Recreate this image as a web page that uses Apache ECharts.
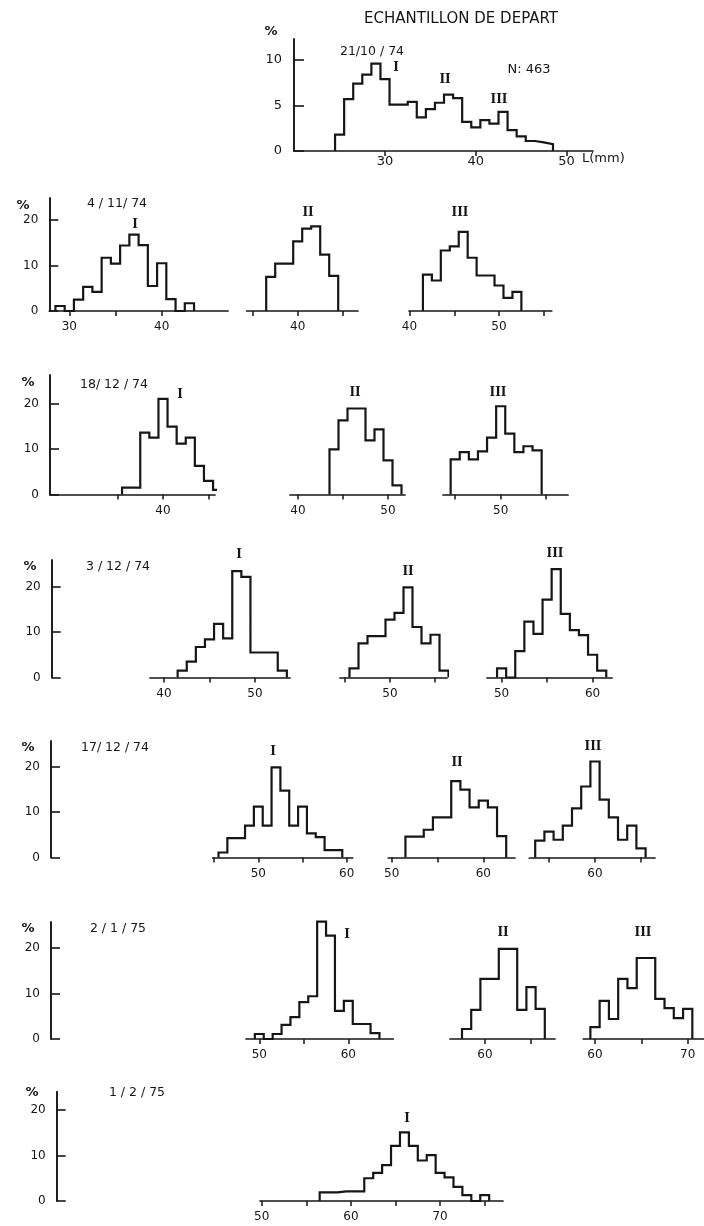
<!DOCTYPE html>
<html><head><meta charset="utf-8">
<script src="https://cdn.jsdelivr.net/npm/echarts@6/dist/echarts.min.js"></script>
<style>html,body{margin:0;padding:0;background:#fff}#c{width:704px;height:1226px}</style>
</head><body><div id="c"></div>
<script>
// ---------- DATA (percent per 1-mm length class; start = lower edge of first class, mm) ----------
const title = 'ECHANTILLON DE DEPART';
const sampleSize = 'N: 463';
const unitLabel = 'L(mm)';
const dates = ['21/10 / 74', '4 / 11/ 74', '18/ 12 / 74', '3 / 12 / 74', '17/ 12 / 74', '2 / 1 / 75', '1 / 2 / 75'];
const cohorts = ['I', 'II', 'III'];

const startTop = 24.5;
const valsTop = [1.8,5.7,7.4,8.4,9.6,7.9,5.1,5.1,5.4,3.7,4.6,5.3,6.2,5.8,3.2,2.6,3.4,3.0,4.3,2.3,1.6,1.1,0.95,0.75];

const start_4_11_I = 28.5;   const vals_4_11_I = [1.1,0,2.5,5.3,4.2,11.7,10.4,14.4,16.8,14.5,5.5,10.5,2.6,0,1.7];
const start_4_11_II = 36.5;  const vals_4_11_II = [7.5,10.4,10.4,15.3,18.1,18.6,12.4,7.7];
const start_4_11_III = 41.5; const vals_4_11_III = [8.0,6.7,13.3,14.2,17.4,11.7,7.8,7.8,5.6,2.9,4.2];

const start_18_12_I = 35.5;  const vals_18_12_I = [1.5,1.5,13.6,12.5,21,14.9,11.2,12.5,6.3,3,1];
const start_18_12_II = 43.5; const vals_18_12_II = [9.9,16.3,18.9,18.9,11.9,14.3,7.5,2];
const start_18_12_III = 44.5;const vals_18_12_III = [7.7,9.3,7.7,9.5,12.5,19.4,13.4,9.3,10.6,9.7];

const start_3_12_I = 41.5;   const vals_3_12_I = [1.5,3.5,6.7,8.4,11.8,8.6,23.4,22.1,5.5,5.5,5.5,1.5];
const start_3_12_II = 45.5;  const vals_3_12_II = [2,7.5,9.1,9.1,12.7,14.2,19.8,11.1,7.5,9.4,1.5];
const start_3_12_III = 49.5; const vals_3_12_III = [2,0,5.8,12.3,9.6,17.1,23.8,14,10.4,9.3,5,1.5];

const start_17_12_I = 45.5;  const vals_17_12_I = [1.1,4.25,4.25,7,11.2,7,19.8,14.7,7,11.2,5.3,4.5,1.6,1.6];
const start_17_12_II = 51.5; const vals_17_12_II = [4.6,4.6,6.1,8.8,8.8,16.8,14.9,11,12.5,11,4.7];
const start_17_12_III = 53.5;const vals_17_12_III = [3.7,5.7,3.9,7,10.8,15.6,21.1,12.7,8.8,3.9,7,2];

const start_2_1_I = 49.5;    const vals_2_1_I = [1.1,0,1.1,3.1,4.8,8.1,9.4,25.8,22.7,6.2,8.4,3.3,3.3,1.3];
const start_2_1_II = 57.5;   const vals_2_1_II = [2.2,6.4,13.2,13.2,19.8,19.8,6.4,11.4,6.6];
const start_2_1_III = 59.5;  const vals_2_1_III = [2.6,8.4,4.4,13.2,11.2,17.8,17.8,8.8,6.8,4.6,6.6];

const start_1_2_I = 56.5;    const vals_1_2_I = [1.9,1.9,2.1,2.1,2.1,5.0,6.2,7.9,12.1,15.1,12.1,8.9,10.1,6.2,5.2,3.1,1.3,0,1.3];

const yTicksTop = [0,5,10];
const yTicksRows = [0,10,20];

// ---------- LAYOUT (pixels) ----------
const INK = '#161616';
const FONT = '"DejaVu Sans", "Liberation Sans", sans-serif';
const KY = 4.55;

const panels = [
  {start:startTop, vals:valsTop, v0:30, p0:385, k:9.08, xa:294, xb:593, base:151, ky:9.1, ymax:12.3, ticks:[30,40,50], labels:[30,40,50], margin:4, fs:13, yAxis:true},
  {start:start_4_11_I, vals:vals_4_11_I, v0:30, p0:69.3, k:9.24, xa:49.3, xb:228, base:311, ticks:[30,35,40], labels:[30,40]},
  {start:start_4_11_II, vals:vals_4_11_II, v0:40, p0:297.7, k:9.0, xa:246.7, xb:358, base:311, ticks:[35,40,45], labels:[40]},
  {start:start_4_11_III, vals:vals_4_11_III, v0:40, p0:409.5, k:8.95, xa:409, xb:551.7, base:311, ticks:[40,45,50,55], labels:[40,50]},
  {start:start_18_12_I, vals:vals_18_12_I, v0:40, p0:163, k:9.1, xa:50, xb:215, base:494.5, ticks:[35,40,45], labels:[40]},
  {start:start_18_12_II, vals:vals_18_12_II, v0:40, p0:298, k:9.0, xa:290, xb:405, base:494.5, ticks:[40,45,50], labels:[40,50]},
  {start:start_18_12_III, vals:vals_18_12_III, v0:50, p0:500.7, k:9.1, xa:443, xb:568, base:494.5, ticks:[45,50,55], labels:[50]},
  {start:start_3_12_I, vals:vals_3_12_I, v0:40, p0:164, k:9.1, xa:150, xb:290, base:677.5, ticks:[40,45,50], labels:[40,50]},
  {start:start_3_12_II, vals:vals_3_12_II, v0:50, p0:390, k:9.0, xa:340, xb:447, base:677.5, ticks:[45,50,55], labels:[50]},
  {start:start_3_12_III, vals:vals_3_12_III, v0:50, p0:501.6, k:9.1, xa:487, xb:612, base:677.5, ticks:[50,55,60], labels:[50,60]},
  {start:start_17_12_I, vals:vals_17_12_I, v0:50, p0:258.3, k:8.84, xa:212.7, xb:352.7, base:857.5, ticks:[45,50,55,60], labels:[50,60]},
  {start:start_17_12_II, vals:vals_17_12_II, v0:50, p0:391.7, k:9.16, xa:388.3, xb:515, base:857.5, ticks:[50,55,60], labels:[50,60]},
  {start:start_17_12_III, vals:vals_17_12_III, v0:60, p0:595, k:9.2, xa:529.3, xb:655, base:857.5, ticks:[55,60,65], labels:[60]},
  {start:start_2_1_I, vals:vals_2_1_I, v0:50, p0:259.3, k:8.9, xa:246, xb:393.3, base:1039, ticks:[50,55,60], labels:[50,60]},
  {start:start_2_1_II, vals:vals_2_1_II, v0:60, p0:485, k:9.2, xa:450, xb:555, base:1039, ticks:[60,65], labels:[60]},
  {start:start_2_1_III, vals:vals_2_1_III, v0:60, p0:595, k:9.27, xa:583.3, xb:704, base:1039, ticks:[60,65,70], labels:[60,70]},
  {start:start_1_2_I, vals:vals_1_2_I, v0:50, p0:261.7, k:8.92, xa:260, xb:503, base:1201, ticks:[50,55,60,65,70,75], labels:[50,60,70]}
];

const rowAxes = [
  {x:49.3, top:198, base:311},
  {x:50, top:375, base:494.5},
  {x:51.7, top:560, base:677.5},
  {x:51, top:741, base:857.5},
  {x:51, top:922, base:1039},
  {x:56.7, top:1091.7, base:1201}
];

const datePos = [[372,52],[117,204],[114,385],[118,567],[115,748],[118,929],[137,1093]];
const pctPos = [[271,32],[23,206],[28,383],[30,567],[28,748],[28,929],[32,1093]];
const romanPos = [
  [0,396,68],[1,445,80],[2,499,100],
  [0,135,225],[1,308,213],[2,460,213],
  [0,180,395],[1,355,393],[2,498,393],
  [0,239,555],[1,408,572],[2,555,554],
  [0,273,752],[1,457,763],[2,593,747],
  [0,347,935],[1,503,933],[2,643,933],
  [0,407,1119]
];

// ---------- BUILD ----------
function outline(start, vals){
  const pts = [[start, 0]];
  vals.forEach((v, i) => { pts.push([start + i, v]); pts.push([start + i + 1, v]); });
  pts.push([start + vals.length, 0]);
  return pts;
}

const grids = [], xAxes = [], yAxes = [], series = [];

panels.forEach(p => {
  const ky = p.ky || KY;
  const ymax = p.ymax || 30;
  const i = grids.length;
  grids.push({left:p.xa, top:p.base - ymax*ky, width:p.xb - p.xa, height:ymax*ky, containLabel:false, outerBoundsMode:'none'});
  xAxes.push({
    type:'value', gridIndex:i,
    min:p.v0 + (p.xa - p.p0)/p.k, max:p.v0 + (p.xb - p.p0)/p.k,
    axisLine:{show:true, onZero:false, lineStyle:{color:INK, width:1.7}},
    axisTick:{show:true, length:5, customValues:p.ticks, lineStyle:{color:INK, width:1.5}},
    axisLabel:{show:true, customValues:p.labels, margin:p.margin || 10, color:INK, fontSize:p.fs || 12, fontFamily:FONT},
    splitLine:{show:false}
  });
  if (p.yAxis) {
    yAxes.push({
      type:'value', gridIndex:i, min:0, max:ymax,
      axisLine:{show:true, lineStyle:{color:INK, width:1.9}},
      axisTick:{show:true, inside:true, length:10, customValues:yTicksTop, lineStyle:{color:INK, width:1.6}},
      axisLabel:{show:true, customValues:yTicksTop, margin:12, color:INK, fontSize:13, fontFamily:FONT},
      splitLine:{show:false}
    });
  } else {
    yAxes.push({type:'value', gridIndex:i, min:0, max:ymax, show:false, splitLine:{show:false}});
  }
  series.push({
    type:'line', xAxisIndex:i, yAxisIndex:i, data:outline(p.start, p.vals),
    symbol:'none', silent:true, clip:false,
    lineStyle:{color:INK, width:2.2, join:'miter'}
  });
});

rowAxes.forEach(r => {
  const i = grids.length;
  grids.push({left:r.x, top:r.top, width:10, height:r.base - r.top, containLabel:false, outerBoundsMode:'none'});
  xAxes.push({type:'value', gridIndex:i, min:0, max:1, show:false});
  yAxes.push({
    type:'value', gridIndex:i, min:0, max:(r.base - r.top)/KY,
    axisLine:{show:true, lineStyle:{color:INK, width:1.9}},
    axisTick:{show:true, inside:true, length:9, customValues:yTicksRows, lineStyle:{color:INK, width:1.6}},
    axisLabel:{show:true, customValues:yTicksRows, margin:11, color:INK, fontSize:12, fontFamily:FONT},
    splitLine:{show:false}
  });
});

const txt = (text, x, y, size, family, weight, align) => ({
  type:'text', x:x, y:y, silent:true,
  style:{text:text, fill:INK, font:(weight || 'normal') + ' ' + size + 'px ' + (family || FONT), align:align || 'center', verticalAlign:'middle'}
});

const graphics = [];
graphics.push(txt(title, 461, 19, 15));
graphics.push(txt(sampleSize, 529, 70, 13));
graphics.push(txt(unitLabel, 582, 159, 13, null, null, 'left'));
dates.forEach((d, i) => graphics.push(txt(d, datePos[i][0], datePos[i][1], 12.5)));
pctPos.forEach(p => graphics.push(txt('%', p[0], p[1], 13, null, 'bold')));
romanPos.forEach(r => graphics.push(txt(cohorts[r[0]], r[1], r[2], 12, '"DejaVu Serif", "Liberation Serif", serif', 'bold')));

const chart = echarts.init(document.getElementById('c'), null, {width:704, height:1226});
chart.setOption({
  backgroundColor:'#ffffff',
  animation:false,
  grid:grids, xAxis:xAxes, yAxis:yAxes, series:series,
  graphic:graphics
});
</script>
</body></html>
